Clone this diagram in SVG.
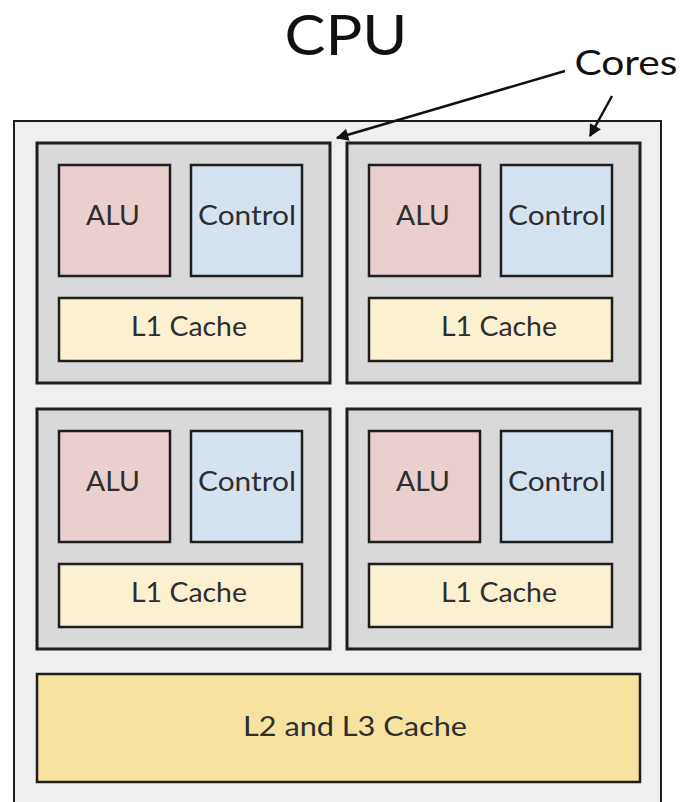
<svg xmlns="http://www.w3.org/2000/svg" width="686" height="802" viewBox="0 0 686 802">
  <defs>
    <style>
      .chip { fill: #efefef; stroke: #1e1e1e; stroke-width: 2; }
      .core { fill: #d9d9d9; stroke: #1e1e1e; stroke-width: 3; }
      .alu { fill: #eacfcf; stroke: #1e1e1e; stroke-width: 2.5; }
      .ctrl { fill: #d5e3f1; stroke: #1e1e1e; stroke-width: 2.5; }
      .l1 { fill: #fbf1d0; stroke: #1e1e1e; stroke-width: 2.5; }
      .l2 { fill: #f6e3a0; stroke: #1e1e1e; stroke-width: 2.5; }
      .lbl { font-family: Lato, "Noto Sans", sans-serif; font-size: 26px; fill: #2e2e2e; text-anchor: middle; }
      .title { font-family: Lato, "Noto Sans", sans-serif; fill: #111; text-anchor: middle; }
      .arrow { stroke: #111; stroke-width: 2.5; fill: none; marker-end: url(#head); }
    </style>
    <marker id="head" viewBox="0 0 10 10" refX="9" refY="5" markerWidth="6" markerHeight="5" orient="auto" markerUnits="strokeWidth">
      <path d="M0,0 L10,5 L0,10 z" fill="#111"/>
    </marker>
    <!-- one core: ALU, control unit and its L1 cache -->
    <g id="coreShape">
      <rect class="core" x="0" y="0" width="293" height="240"/>
      <rect class="alu" x="22" y="22" width="111" height="111"/>
      <rect class="ctrl" x="154" y="22" width="111" height="111"/>
      <rect class="l1" x="22" y="155" width="243" height="63"/>
      <text class="lbl" x="76" y="82" textLength="54" lengthAdjust="spacingAndGlyphs">ALU</text>
      <text class="lbl" x="210" y="82" textLength="98" lengthAdjust="spacingAndGlyphs">Control</text>
      <text class="lbl" x="152" y="193" textLength="116" lengthAdjust="spacingAndGlyphs">L1 Cache</text>
    </g>
  </defs>

  <rect width="686" height="802" fill="#ffffff"/>

  <g id="cpu">
    <rect class="chip" x="14" y="121" width="647" height="700"/>
    <text class="title" x="346" y="55" font-size="56" textLength="123" lengthAdjust="spacingAndGlyphs">CPU</text>
  </g>

  <g id="core1"><use href="#coreShape" x="37" y="143"/></g>
  <g id="core2"><use href="#coreShape" x="347" y="143"/></g>
  <g id="core3"><use href="#coreShape" x="37" y="409"/></g>
  <g id="core4"><use href="#coreShape" x="347" y="409"/></g>

  <g id="l2l3">
    <rect class="l2" x="37" y="674" width="603" height="108"/>
    <text class="lbl" x="355" y="736" font-size="30" textLength="224" lengthAdjust="spacingAndGlyphs">L2 and L3 Cache</text>
  </g>

  <g id="coresLabel">
    <text class="title" x="626" y="75" font-size="35" textLength="103" lengthAdjust="spacingAndGlyphs">Cores</text>
  </g>

  <g id="connectors">
    <line class="arrow" x1="565" y1="71" x2="337" y2="138"/>
    <line class="arrow" x1="612" y1="96" x2="590" y2="136"/>
  </g>
</svg>
